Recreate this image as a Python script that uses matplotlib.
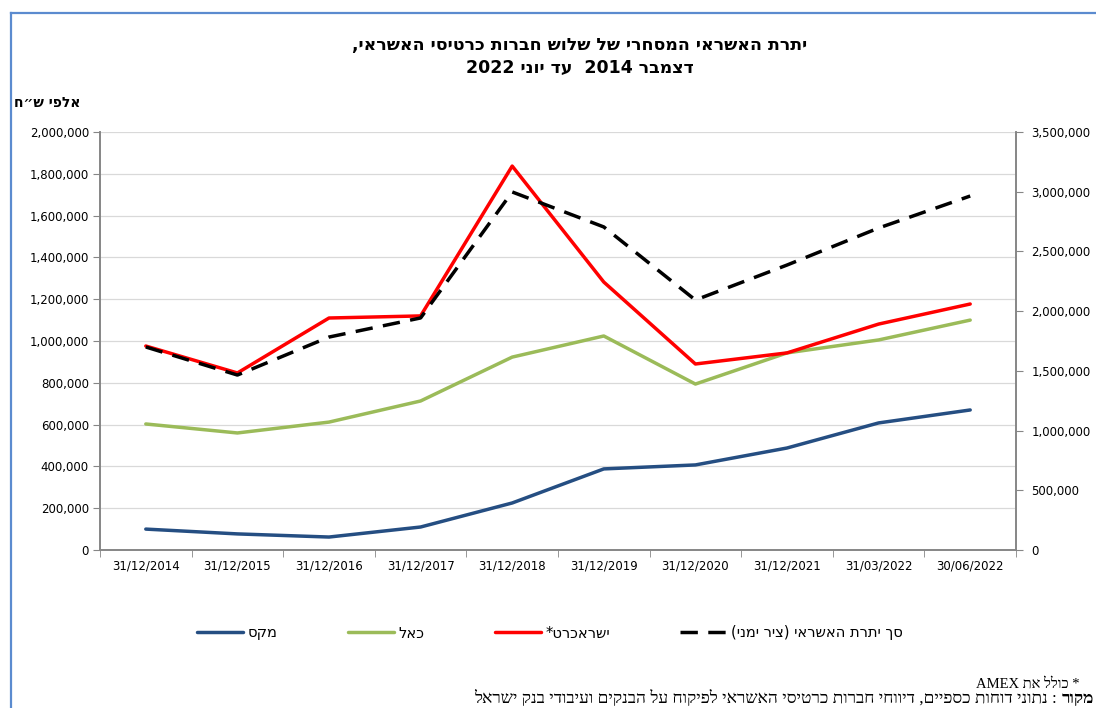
import re
import matplotlib
matplotlib.use("Agg")
import matplotlib.pyplot as plt
from matplotlib.lines import Line2D
from matplotlib.ticker import FuncFormatter, MultipleLocator, FixedLocator

plt.rcParams['font.family'] = ['DejaVu Sans', 'Liberation Sans']

# ---------------- data ----------------
dates = ["31/12/2014", "31/12/2015", "31/12/2016", "31/12/2017", "31/12/2018",
         "31/12/2019", "31/12/2020", "31/12/2021", "31/03/2022", "30/06/2022"]
max_vals = [100000, 77000, 62000, 110000, 225000, 388000, 407000, 488000, 608000, 670000]
cal_vals = [603000, 560000, 612000, 713000, 923000, 1024000, 794000, 943000, 1005000, 1100000]
isracard_vals = [976000, 847000, 1110000, 1120000, 1837000, 1282000, 890000, 943000, 1081000, 1177000]
total_vals = [1700000, 1465000, 1783000, 1943000, 2998000, 2705000, 2093000, 2386000, 2696000, 2964000]

label_max = "מקס"
label_cal = "כאל"
label_isracard = "ישראכרט*"
label_total = "סך יתרת האשראי (ציר ימני)"
title1 = "יתרת האשראי המסחרי של שלוש חברות כרטיסי האשראי,"
title2 = "דצמבר 2014  עד יוני 2022"
ylabel = "אלפי ש״ח"
note1 = "* כולל את AMEX"
note2_bold = "מקור"
note2_rest = " : נתוני דוחות כספיים, דיווחי חברות כרטיסי האשראי לפיקוח על הבנקים ועיבודי בנק ישראל"


def vis(s):
    """Convert logical-order Hebrew text to visual order for matplotlib."""
    r = s[::-1]
    r = r.translate(str.maketrans('()', ')('))
    r = re.sub(r'[0-9A-Za-z]+', lambda m: m.group(0)[::-1], r)
    return r


W, H = 1096, 708
fig = plt.figure(figsize=(W / 100, H / 100), dpi=100)
L, R, T, B = 100, 1016, 132, 550
ax = fig.add_axes([L / W, 1 - B / H, (R - L) / W, (B - T) / H])
ax2 = ax.twinx()

x = list(range(len(dates)))
ax.plot(x, max_vals, color="#254E82", lw=2.5, label=vis(label_max), solid_capstyle='round', zorder=3)
ax.plot(x, cal_vals, color="#9BBB59", lw=2.5, label=vis(label_cal), solid_capstyle='round', zorder=3)
ax.plot(x, isracard_vals, color="#FF0000", lw=2.5, label=vis(label_isracard), solid_capstyle='round', zorder=3)
ax2.plot(x, total_vals, color="black", lw=2.5, ls=(0, (5, 3)), label=vis(label_total))

ax.set_xlim(-0.5, len(dates) - 0.5)
ax.set_ylim(0, 2000000)
ax2.set_ylim(0, 3500000)
ax.yaxis.set_major_locator(MultipleLocator(200000))
ax2.yaxis.set_major_locator(MultipleLocator(500000))
fmt = FuncFormatter(lambda v, p: f"{int(v):,}")
ax.yaxis.set_major_formatter(fmt)
ax2.yaxis.set_major_formatter(fmt)

ax.set_xticks(x)
ax.set_xticklabels(dates)
ax.xaxis.set_minor_locator(FixedLocator([i - 0.5 for i in range(len(dates) + 1)]))
ax.tick_params(axis='x', which='major', length=0, pad=7, labelsize=8.5, colors='black')
ax.tick_params(axis='x', which='minor', length=5, color='#868686', direction='out')
ax.tick_params(axis='y', length=5, color='#868686', labelsize=8.5, pad=3)
ax2.tick_params(axis='y', length=5, color='#868686', labelsize=8.5, pad=6)

ax.grid(axis='y', color='#D9D9D9', lw=0.9)
ax.set_axisbelow(True)
for a in (ax, ax2):
    a.spines['top'].set_visible(False)
    for s in ('left', 'right', 'bottom'):
        a.spines[s].set_color('#868686')
        a.spines[s].set_linewidth(1.2)

# title
fig.text(580 / W, 1 - 45 / H, vis(title1), ha='center', va='center', fontsize=12.5, fontweight='bold')
fig.text(580 / W, 1 - 68 / H, vis(title2), ha='center', va='center', fontsize=12.5, fontweight='bold')
fig.text(47 / W, 1 - 103 / H, vis(ylabel), ha='center', va='center', fontsize=10, fontweight='bold')

# legend
h1, l1 = ax.get_legend_handles_labels()
h2, l2 = ax2.get_legend_handles_labels()
fig.legend(h1 + h2, l1 + l2, loc='center', bbox_to_anchor=(550 / W, 1 - 633 / H), ncol=4,
           frameon=False, fontsize=10.5, handlelength=3.2, handletextpad=0.3, columnspacing=4.8)

# footnotes
serif = ['Liberation Serif', 'DejaVu Serif']
fig.text(1080 / W, 1 - 684 / H, vis(note1), ha='right', va='center', fontsize=10.5, family=serif)
tb = fig.text(1094 / W, 1 - 699 / H, vis(note2_bold), ha='right', va='center', fontsize=12.4,
              fontweight='bold', family=serif)
ax.annotate(vis(note2_rest), xy=(0, 0.5), xycoords=tb, ha='right', va='center', fontsize=12.4,
            family=serif, annotation_clip=False)

# frame border (top and left)
bc = "#5B8BCF"
fig.add_artist(Line2D([11 / W, 1], [1 - 13 / H, 1 - 13 / H], color=bc, lw=1.6, transform=fig.transFigure))
fig.add_artist(Line2D([11 / W, 11 / W], [1 - 13 / H, 0], color=bc, lw=1.6, transform=fig.transFigure))

fig.savefig("out.png", dpi=100)
